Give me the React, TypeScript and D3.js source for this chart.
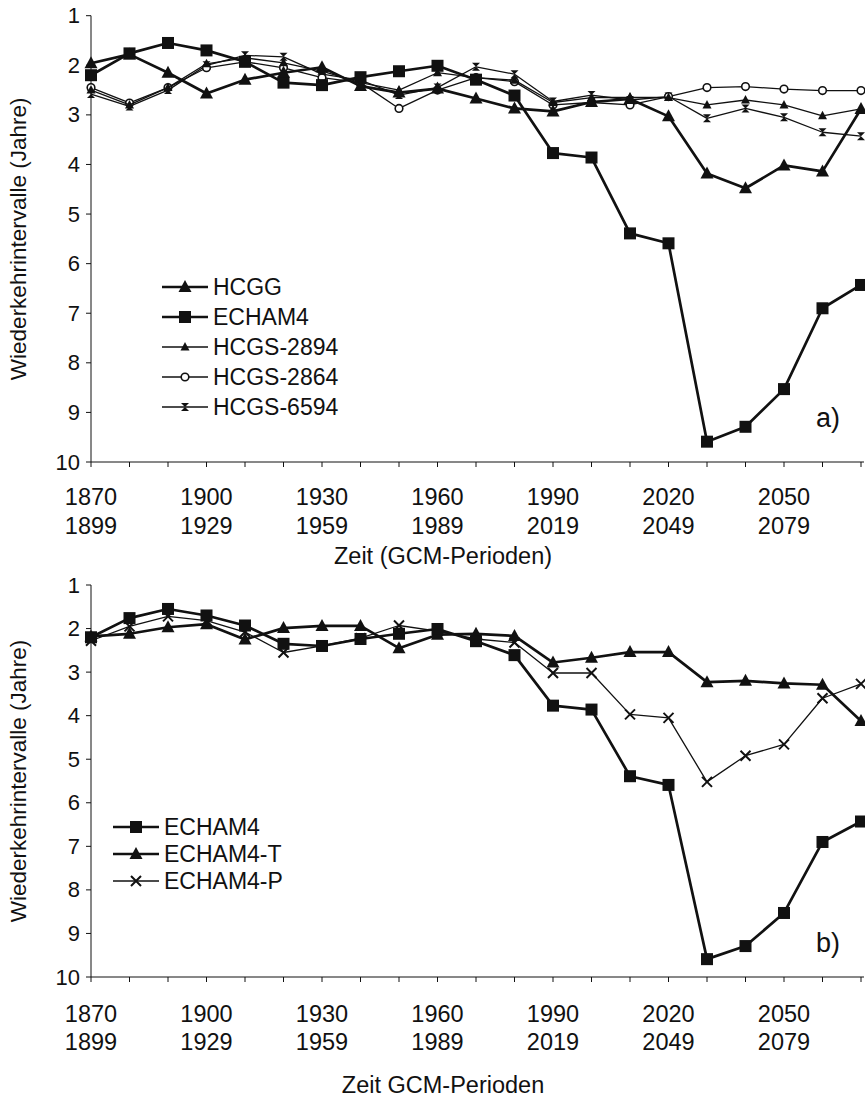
import * as d3 from 'd3'

// GCM periods (start year of each 30-year window, one point per decade)
const PERIOD_START = [1870, 1880, 1890, 1900, 1910, 1920, 1930, 1940, 1950, 1960, 1970, 1980, 1990, 2000, 2010, 2020, 2030, 2040, 2050, 2060, 2070]
const TICK_START = [1870, 1900, 1930, 1960, 1990, 2020, 2050]
const TICK_END = [1899, 1929, 1959, 1989, 2019, 2049, 2079]
const Y_TICKS = [1, 2, 3, 4, 5, 6, 7, 8, 9, 10]

// panel a
const HCGG = [1.96, 1.78, 2.15, 2.57, 2.29, 2.15, 2.04, 2.42, 2.55, 2.47, 2.67, 2.87, 2.93, 2.74, 2.68, 3.03, 4.18, 4.48, 4.02, 4.14, 2.88]
const ECHAM4 = [2.2, 1.76, 1.55, 1.7, 1.93, 2.35, 2.4, 2.24, 2.12, 2.01, 2.29, 2.61, 3.77, 3.86, 5.39, 5.59, 9.59, 9.29, 8.53, 6.9, 6.43]
const HCGS_2894 = [2.5, 2.8, 2.45, 1.97, 1.85, 1.95, 2.12, 2.35, 2.5, 2.15, 2.25, 2.3, 2.75, 2.65, 2.65, 2.65, 2.8, 2.7, 2.8, 3.02, 2.88]
const HCGS_2864 = [2.45, 2.76, 2.45, 2.05, 1.93, 2.05, 2.25, 2.35, 2.87, 2.5, 2.25, 2.33, 2.8, 2.75, 2.8, 2.63, 2.45, 2.43, 2.48, 2.51, 2.51]
const HCGS_6594 = [2.58, 2.83, 2.5, 2.0, 1.8, 1.83, 2.18, 2.3, 2.6, 2.45, 2.03, 2.18, 2.73, 2.6, 2.7, 2.63, 3.07, 2.87, 3.05, 3.35, 3.43]

// panel b
const ECHAM4_T = [2.18, 2.12, 1.97, 1.9, 2.25, 1.99, 1.94, 1.94, 2.45, 2.14, 2.12, 2.17, 2.78, 2.67, 2.54, 2.54, 3.23, 3.2, 3.26, 3.29, 4.12]
const ECHAM4_P = [2.28, 1.95, 1.72, 1.82, 2.08, 2.55, 2.4, 2.22, 1.93, 2.06, 2.24, 2.32, 3.02, 3.02, 3.97, 4.05, 5.52, 4.92, 4.66, 3.6, 3.27]

const FONT = '"Liberation Sans", Arial, sans-serif'
const INK = '#111'
const X0 = 91
const X1 = 861

type MarkerType = 'square' | 'triangle' | 'smallTriangle' | 'circle' | 'hourglass' | 'cross'

interface Series {
  name: string
  values: number[]
  marker: MarkerType
  thick: boolean
}

function Marker({ type, x, y }: { type: MarkerType; x: number; y: number }) {
  if (type === 'square') return <rect x={x - 6} y={y - 6} width={12} height={12} fill={INK} />
  if (type === 'triangle') {
    return <path d={`M${x},${y - 7}L${x + 6.5},${y + 5}L${x - 6.5},${y + 5}Z`} fill={INK} />
  }
  if (type === 'smallTriangle') {
    return <path d={`M${x},${y - 5}L${x + 4.5},${y + 3.5}L${x - 4.5},${y + 3.5}Z`} fill={INK} />
  }
  if (type === 'circle') {
    return <circle cx={x} cy={y} r={3.8} fill="#fff" stroke={INK} strokeWidth={1.6} />
  }
  if (type === 'hourglass') {
    return <path d={`M${x - 4},${y - 4}L${x + 4},${y - 4}L${x - 4},${y + 4}L${x + 4},${y + 4}Z`} fill={INK} />
  }
  return (
    <path
      d={`M${x - 5},${y - 5}L${x + 5},${y + 5}M${x - 5},${y + 5}L${x + 5},${y - 5}`}
      stroke={INK}
      strokeWidth={2}
    />
  )
}

interface PanelProps {
  top: number
  bottom: number
  series: Series[]
  legendYs: number[]
  legendX: number
  letter: string
  letterY: number
  xTitle: string
  row1: number
  row2: number
  titleY: number
}

function Panel({ top, bottom, series, legendYs, legendX, letter, letterY, xTitle, row1, row2, titleY }: PanelProps) {
  const x = d3.scalePoint<number>().domain(PERIOD_START).range([X0, X1])
  const y = d3.scaleLinear().domain([1, 10]).range([top, bottom])
  const line = d3
    .line<number>()
    .x((_, i) => x(PERIOD_START[i]) as number)
    .y((v) => y(v))

  // thin series underneath, thick ones on top
  const drawOrder = [...series].reverse()

  return (
    <g fontFamily={FONT} fill={INK}>
      {/* y axis */}
      <line x1={X0} x2={X0} y1={top} y2={bottom} stroke={INK} strokeWidth={1} />
      {Y_TICKS.map((t) => (
        <g key={t}>
          <line x1={X0 - 5} x2={X0} y1={y(t)} y2={y(t)} stroke={INK} strokeWidth={1} />
          <text x={X0 - 11} y={y(t)} textAnchor="end" dominantBaseline="central" fontSize={22}>
            {t}
          </text>
        </g>
      ))}
      <text
        transform={`translate(18, ${(top + bottom) / 2}) rotate(-90)`}
        textAnchor="middle"
        dominantBaseline="central"
        fontSize={22.5}
      >
        Wiederkehrintervalle (Jahre)
      </text>

      {/* x axis */}
      <line x1={X0} x2={864} y1={bottom} y2={bottom} stroke={INK} strokeWidth={1} />
      {PERIOD_START.map((p) => (
        <line key={p} x1={x(p)} x2={x(p)} y1={bottom} y2={bottom + 5} stroke={INK} strokeWidth={1} />
      ))}
      {TICK_START.map((p, i) => (
        <g key={p}>
          <text x={x(p)} y={row1} textAnchor="middle" dominantBaseline="central" fontSize={23.5}>
            {p}
          </text>
          <text x={x(p)} y={row2} textAnchor="middle" dominantBaseline="central" fontSize={23.5}>
            {TICK_END[i]}
          </text>
        </g>
      ))}
      <text x={443} y={titleY} textAnchor="middle" dominantBaseline="central" fontSize={23.5}>
        {xTitle}
      </text>

      {/* series */}
      {drawOrder.map((s) => (
        <g key={s.name}>
          <path d={line(s.values) ?? ''} fill="none" stroke={INK} strokeWidth={s.thick ? 2.7 : 1.3} strokeLinejoin="round" />
          {s.values.map((v, i) => (
            <Marker key={i} type={s.marker} x={x(PERIOD_START[i]) as number} y={y(v)} />
          ))}
        </g>
      ))}

      {/* legend */}
      {series.map((s, i) => (
        <g key={s.name}>
          <line
            x1={legendX}
            x2={legendX + 46}
            y1={legendYs[i]}
            y2={legendYs[i]}
            stroke={INK}
            strokeWidth={s.thick ? 2.7 : 1.3}
          />
          <Marker type={s.marker} x={legendX + 23} y={legendYs[i]} />
          <text x={legendX + 51} y={legendYs[i]} dominantBaseline="central" fontSize={23}>
            {s.name}
          </text>
        </g>
      ))}

      <text x={828} y={letterY} textAnchor="middle" dominantBaseline="central" fontSize={27}>
        {letter}
      </text>
    </g>
  )
}

const SERIES_A: Series[] = [
  { name: 'HCGG', values: HCGG, marker: 'triangle', thick: true },
  { name: 'ECHAM4', values: ECHAM4, marker: 'square', thick: true },
  { name: 'HCGS-2894', values: HCGS_2894, marker: 'smallTriangle', thick: false },
  { name: 'HCGS-2864', values: HCGS_2864, marker: 'circle', thick: false },
  { name: 'HCGS-6594', values: HCGS_6594, marker: 'hourglass', thick: false },
]

const SERIES_B: Series[] = [
  { name: 'ECHAM4', values: ECHAM4, marker: 'square', thick: true },
  { name: 'ECHAM4-T', values: ECHAM4_T, marker: 'triangle', thick: true },
  { name: 'ECHAM4-P', values: ECHAM4_P, marker: 'cross', thick: false },
]

export default function App() {
  return (
    <svg
      width={865}
      height={1099}
      viewBox="0 0 865 1099"
      style={{ position: 'absolute', left: 0, top: 0, background: '#fff' }}
    >
      <Panel
        top={15.7}
        bottom={462}
        series={SERIES_A}
        legendYs={[287, 317, 347, 377, 407]}
        legendX={162}
        letter="a)"
        letterY={418}
        xTitle="Zeit (GCM-Perioden)"
        row1={497}
        row2={526}
        titleY={556}
      />
      <Panel
        top={585}
        bottom={977}
        series={SERIES_B}
        legendYs={[827, 854, 881]}
        legendX={113}
        letter="b)"
        letterY={943}
        xTitle="Zeit GCM-Perioden"
        row1={1014}
        row2={1042}
        titleY={1085}
      />
    </svg>
  )
}
